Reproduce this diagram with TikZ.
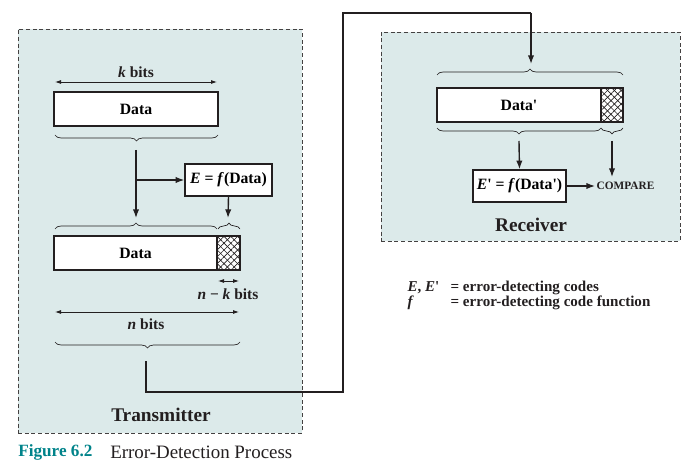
\documentclass[tikz,border=0pt]{standalone}
\usepackage{fontspec}
\setmainfont{Liberation Serif}[Ligatures=TeXOff]
\usetikzlibrary{decorations.pathreplacing,patterns.meta,arrows.meta}
\definecolor{panel}{HTML}{DCEAEA}
\definecolor{capteal}{HTML}{00838A}
\definecolor{ink}{HTML}{231F20}
\begin{document}
\begin{tikzpicture}[x=0.75pt,y=-0.75pt,
  panelbox/.style={draw=ink!85, dash pattern=on 3pt off 2pt, fill=panel, line width=0.6pt},
  databox/.style={draw=ink, fill=white, line width=1.1pt, inner sep=0pt, font=\bfseries\fontsize{11.8}{13}\selectfont},
  hatchbox/.style={draw=ink, fill=white, line width=1.1pt, inner sep=0pt,
     postaction={pattern={Lines[angle=45,distance=3.6pt,line width=0.5pt]}, pattern color=ink},
     postaction={pattern={Lines[angle=-45,distance=3.6pt,line width=0.5pt]}, pattern color=ink}},
  lbl/.style={font=\bfseries\fontsize{11.6}{13}\selectfont, text=ink, inner sep=1pt},
  lgd/.style={font=\bfseries\fontsize{11.3}{13}\selectfont, text=ink, inner sep=1pt},
  title/.style={font=\bfseries\fontsize{14.5}{16}\selectfont, text=ink},
  arr/.style={draw=ink, line width=1.05pt, -{Latex[length=6.5pt,width=4.8pt]}},
  dim/.style={draw=ink, line width=0.6pt, {Latex[length=4.5pt,width=3pt]}-{Latex[length=4.5pt,width=3pt]}},
  brc/.style={draw=ink, line width=0.5pt, decorate, decoration={brace, amplitude=4.5pt}},
  brcd/.style={brc, decoration={brace, amplitude=4.5pt, mirror}},
  link/.style={draw=ink, line width=1.3pt}]
\useasboundingbox (0,0) rectangle (693,474);

% panels
\node[panelbox, minimum width=213pt, minimum height=303pt, inner sep=0pt] (tx) at (160,231) {};
\node[panelbox, minimum width=224.25pt, minimum height=156.75pt, inner sep=0pt] (rx) at (530.5,136.5) {};

% ---------------- transmitter ----------------
\coordinate (kL) at (55,82); \coordinate (kR) at (217,82);
\draw[dim] (kL) -- (kR);
\node[lbl] (klab) at (136,72) {\textit{k} bits};

\node[databox, minimum width=123pt, minimum height=25.5pt] (d1) at (136,109) {Data};
\draw[brcd] (55,135) -- (218,135);

\node[databox, minimum width=65.25pt, minimum height=24pt] (ef) at (228.5,180) {\textit{E} = \textit{f}(Data)};

\coordinate (v1s) at (136,150);
\coordinate (v1e) at (136,218);
\coordinate (br) at (136,180);
\draw[arr] (v1s) -- (v1e);
\draw[arr] (br) -- (ef.west);
\coordinate (v2e) at (228,218);
\draw[arr] (ef.south) -- (v2e);

\draw[brc] (55,229) -- (217,229);
\draw[brc] (218,229) -- (240,229);

\node[databox, minimum width=122.25pt, minimum height=25.5pt] (d2) at (135.5,253) {Data};
\node[hatchbox, minimum width=17.25pt, minimum height=25.5pt] (h2) at (228.5,253) {};

\coordinate (nkL) at (218,281); \coordinate (nkR) at (239,281);
\draw[dim] (nkL) -- (nkR);
\node[lbl] (nklab) at (228,294) {\textit{n} − \textit{k} bits};

\coordinate (nL) at (55,312); \coordinate (nR) at (239,312);
\draw[dim] (nL) -- (nR);
\node[lbl] (nlab) at (146,324) {\textit{n} bits};
\draw[brcd] (55,342) -- (240,342);

\node[title] (txt) at (161,415) {Transmitter};

% ---------------- link ----------------
\coordinate (ls) at (146,361);
\coordinate (le) at (531,64);
\draw[link] (ls) |- (343,392) |- (531,13);
\draw[arr, line width=1.1pt] (531,13) -- (le);

% ---------------- receiver ----------------
\draw[brc] (437,75) -- (623,75);
\node[databox, minimum width=123pt, minimum height=25.5pt] (d3) at (519,105) {Data'};
\node[hatchbox, minimum width=16.5pt, minimum height=25.5pt] (h3) at (612,105) {};
\draw[brcd] (437,128) -- (601,128);
\draw[brcd] (601,128) -- (623,128);

\node[databox, minimum width=69.75pt, minimum height=24pt] (ep) at (519.5,186) {\textit{E}' = \textit{f}(Data')};
\node[font=\bfseries\fontsize{8.5}{10}\selectfont, text=ink, anchor=west, inner sep=1pt] (cmp) at (595,186) {COMPARE};

\coordinate (r1s) at (519,141);
\draw[arr] (r1s) -- (ep.north);
\coordinate (r2s) at (612,141);
\coordinate (r2e) at (612,177);
\draw[arr] (r2s) -- (r2e);
\draw[arr] (ep.east) -- (cmp.west);

\node[title] (rxt) at (531,225) {Receiver};

% ---------------- legend ----------------
\node[lgd, anchor=west] (lg1a) at (406,288) {\textit{E}, \textit{E}'};
\node[lgd, anchor=west] (lg1b) at (449,288) {= error-detecting codes};
\node[lgd, anchor=west] (lg2a) at (406,303) {\textit{f}};
\node[lgd, anchor=west] (lg2b) at (449,303) {= error-detecting code function};

% ---------------- caption ----------------
\node[anchor=west, inner sep=0pt, font=\bfseries\fontsize{12.9}{14}\selectfont, text=capteal] (cap1) at (18,452) {Figure 6.2};
\node[anchor=west, inner sep=0pt, font=\fontsize{14.2}{16}\selectfont, text=ink] (cap2) at (110,452) {Error-Detection Process};
\end{tikzpicture}
\end{document}
